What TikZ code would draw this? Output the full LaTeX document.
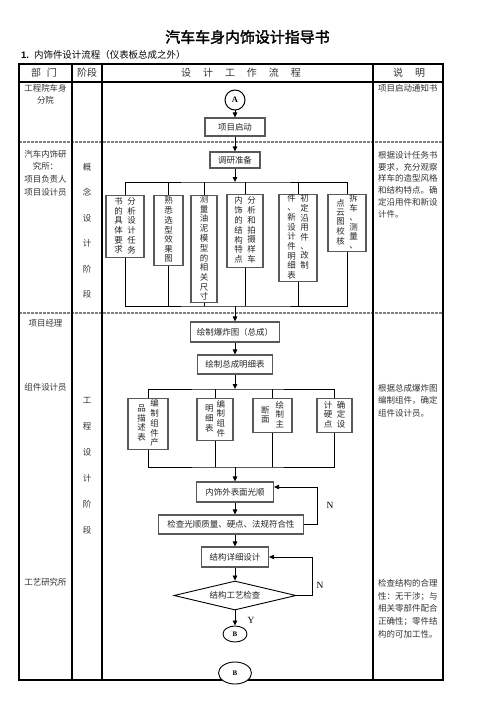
\documentclass[tikz,border=0pt]{standalone}
\usepackage{fontspec}
\setmainfont{Noto Sans CJK SC}
\newfontfamily\cjkbold[FakeBold=2]{Noto Sans CJK SC}
\newfontfamily\latinserif{Liberation Serif}
\newfontfamily\latinsans{Liberation Sans}
\usetikzlibrary{arrows.meta,shapes.geometric,calc}
\newcommand{\myfs}[2]{\fontsize{#1}{#2}\selectfont}
\newcommand{\vstk}[1]{\begin{tabular}[c]{@{}c@{}}#1\end{tabular}}
\newcommand{\vstkt}[1]{\begin{tabular}[t]{@{}c@{}}#1\end{tabular}}
\begin{document}
\begin{tikzpicture}[x=1bp,y=-1bp,
  tbl/.style={line width=1.1bp,draw=black},
  sepline/.style={draw=black!50,line width=1.1bp,dash pattern=on 2.8bp off 1.2bp},
  fbox/.style={draw=black!65,line width=1.1bp,fill=white,inner sep=0pt,font=\myfs{8.5}{9},text=black!85},
  conn/.style={line width=0.8bp,draw=black},
  arr/.style={conn,-{Triangle[length=5bp,width=4.5bp]}},
  txt/.style={inner sep=0pt,text=black!80},
  hdr/.style={inner sep=0pt,font=\myfs{10}{12},text=black!80},
  lbl/.style={inner sep=0pt,font={\latinserif\myfs{9.5}{10}}},
]
\fill[white] (0,0) rectangle (496,702);
\useasboundingbox (0,0) rectangle (496,702);

% title
\node[inner sep=0pt,font={\cjkbold\myfs{15}{15}}] (title) at (247.5,37) {汽车车身内饰设计指导书};
\node[anchor=west,inner sep=0pt,font=\myfs{9.5}{10}] (sub) at (21,55) {{\latinsans\bfseries 1.}\hspace{5bp}内饰件设计流程（仪表板总成之外）};

% table
\draw[sepline] (19,142) -- (443,142);
\draw[sepline] (19,313) -- (443,313);
\draw[tbl] (19,64) rectangle (443,680);
\draw[tbl] (19,82) -- (443,82);
\draw[tbl] (72,64) -- (72,680);
\draw[tbl] (102,64) -- (102,680);
\draw[tbl] (373,64) -- (373,680);

% header
\node[hdr] (h1) at (44,73) {部\hspace{6bp}门};
\node[hdr] (h2) at (87,73) {阶段};
\node[hdr] (h3) at (241,73) {设\hspace{12bp}计\hspace{12bp}工\hspace{12bp}作\hspace{12bp}流\hspace{12bp}程};
\node[hdr] (h4) at (409,73) {说\hspace{12bp}明};

% left column
\node[txt,align=center,font=\myfs{8.5}{12.5}] (d1) at (45.5,94.2) {工程院车身\\分院};
\node[txt,align=center,font=\myfs{8.5}{12.7}] (d2) at (45.5,173) {汽车内饰研\\究所：\\项目负责人\\项目设计员};
\node[txt,font=\myfs{8.5}{12}] (d3) at (45.5,323) {项目经理};
\node[txt,font=\myfs{8.5}{12}] (d4) at (45.5,387) {组件设计员};
\node[txt,font=\myfs{8.5}{12}] (d5) at (45.5,582) {工艺研究所};

% stage column
\node[txt,align=center,font=\myfs{8.5}{25.6}] (s1) at (87,231) {概\\念\\设\\计\\阶\\段};
\node[txt,align=center,font=\myfs{8.5}{26.1}] (s2) at (87,465.3) {工\\程\\设\\计\\阶\\段};

% right column
\node[txt,anchor=west,font=\myfs{8.5}{12}] (e1) at (378,88) {项目启动通知书};
\node[txt,anchor=west,align=left,font=\myfs{8.5}{11.8}] (e2) at (378,184.5) {根据设计任务书\\要求，充分观察\\样车的造型风格\\和结构特点。确\\定沿用件和新设\\计件。};
\node[txt,anchor=west,align=left,font=\myfs{8.5}{12.5}] (e3) at (378,400.7) {根据总成爆炸图\\编制组件，确定\\组件设计员。};
\node[txt,anchor=west,align=left,font=\myfs{8.5}{12.75}] (e4) at (378,608.5) {检查结构的合理\\性：无干涉；与\\相关零部件配合\\正确性；零件结\\构的可加工性。};

% flow: concept stage
\node[circle,draw,line width=1bp,minimum size=20bp,inner sep=0pt,font={\latinserif\bfseries\myfs{8.5}{9}}] (A) at (235,100) {A};
\node[fbox,minimum width=60bp,minimum height=18bp] (qd) at (235,127) {项目启动};
\node[fbox,minimum width=50bp,minimum height=16bp] (dy) at (235,160) {调研准备};
\draw[arr] (A) -- (qd);
\draw[arr] (qd) -- (dy);

\node[fbox,anchor=north,minimum width=38bp,minimum height=62bp] (b1) at (125,195) {\vstk{书\\的\\具\\体\\要\\求}\hspace{4.5bp}\vstk{分\\析\\设\\计\\任\\务}};
\node[fbox,anchor=north,minimum width=29bp,minimum height=70bp] (b2) at (168.5,195) {\vstk{熟\\悉\\选\\型\\效\\果\\图}};
\node[fbox,anchor=north,minimum width=26bp,minimum height=107bp] (b3) at (204,195) {\vstk{测\\量\\油\\泥\\模\\型\\的\\相\\关\\尺\\寸}};
\node[fbox,anchor=north,minimum width=36bp,minimum height=73bp] (b4) at (245,194) {\vstk{内\\饰\\的\\结\\构\\特\\点}\hspace{4.5bp}\vstk{分\\析\\和\\拍\\摄\\样\\车}};
\node[fbox,anchor=north,minimum width=38bp,minimum height=84bp] (b5) at (298,194) {\vstkt{件\\、\\新\\设\\计\\件\\明\\细\\表}\hspace{4.5bp}\vstkt{初\\定\\沿\\用\\件\\、\\改\\制}};
\node[fbox,anchor=north,minimum width=38bp,minimum height=55bp] (b6) at (347,194) {\vstk{点\\云\\图\\校\\核}\hspace{4.5bp}\vstk{拆\\车\\、\\测\\量\\、}};

\coordinate (bus1) at (235,182);
\coordinate (bus1b) at (235,306);
\draw[arr] (dy.south) -- (bus1);
\draw[conn] (b1.north) |- (bus1) -| (b6.north);
\foreach \n in {b2,b3,b4,b5} \draw[conn] (\n.north) -- (\n.north |- bus1);
\draw[conn] (b1.south) |- (bus1b) -| (b6.south);
\foreach \n in {b2,b3,b4,b5} \draw[conn] (\n.south) -- (\n.south |- bus1b);

% flow: engineering stage
\node[fbox,minimum width=89bp,minimum height=20bp] (bz) at (235,332) {绘制爆炸图（总成）};
\node[fbox,minimum width=75bp,minimum height=19bp] (zc) at (235,364.5) {绘制总成明细表};
\draw[arr] (bus1b) -- (bz.north);
\draw[arr] (bz) -- (zc);

\node[fbox,anchor=north,minimum width=40bp,minimum height=51bp] (c1) at (148,398) {\vstk{品\\描\\述\\表}\hspace{4.5bp}\vstk{编\\制\\组\\件\\产}};
\node[fbox,anchor=north,minimum width=36bp,minimum height=42bp] (c2) at (215,398) {\vstk{明\\细\\表}\hspace{3bp}\vstk{编\\制\\组\\件}};
\node[fbox,anchor=north,minimum width=39bp,minimum height=34bp] (c3) at (272.5,398) {\vstk{断\\面}\hspace{6bp}\vstk{绘\\制\\主}};
\node[fbox,anchor=north,minimum width=35bp,minimum height=34bp] (c4) at (334.5,398) {\vstk{计\\硬\\点}\hspace{4.5bp}\vstk{确\\定\\设}};

\coordinate (bus2) at (235,389);
\coordinate (bus2b) at (235,467);
\draw[arr] (zc) -- (bus2);
\draw[conn] (c1.north) |- (bus2) -| (c4.north);
\foreach \n in {c2,c3} \draw[conn] (\n.north) -- (\n.north |- bus2);
\draw[conn] (c1.south) |- (bus2b) -| (c4.south);
\foreach \n in {c2,c3} \draw[conn] (\n.south) -- (\n.south |- bus2b);

\node[fbox,minimum width=77bp,minimum height=20bp] (nb) at (235,492) {内饰外表面光顺};
\node[fbox,minimum width=145bp,minimum height=19bp] (jc) at (231,524.5) {检查光顺质量、硬点、法规符合性};
\node[fbox,minimum width=67bp,minimum height=20bp] (sx) at (235,557) {结构详细设计};
\node[diamond,draw=black,line width=0.9bp,fill=white,aspect=4,inner sep=0pt,minimum width=122bp,minimum height=29bp,font=\myfs{8.5}{9},text=black!85] (gy) at (235,595.5) {结构工艺检查};
\node[ellipse,draw,line width=0.9bp,minimum width=24bp,minimum height=16bp,inner sep=0pt,font={\latinserif\bfseries\myfs{7}{8}}] (B1) at (235,634) {B};

\coordinate (sp) at (235,0);
\draw[arr] (bus2b) -- (nb.north);
\draw[arr] (nb.south) -- (nb.south |- jc.north);
\draw[arr] (jc.south -| sp) -- (sx.north);
\draw[arr] (sx) -- (gy);
\draw[arr] (gy) -- (B1);

\coordinate (r1) at (317,0);
\coordinate (nbin) at ($(nb.east)+(0,-5)$);
\draw[arr] (jc.east) -- (jc.east -| r1) -- (r1 |- nbin) -- (nbin);
\coordinate (r2) at (312,0);
\draw[arr] (gy.east) -- (gy.east -| r2) -- (r2 |- sx.east) -- (sx.east);

\node[lbl] (n1) at (330,505) {N};
\node[lbl] (n2) at (320,585) {N};
\node[lbl] (y1) at (251,620) {Y};

\node[ellipse,draw,line width=0.9bp,fill=white,minimum width=33bp,minimum height=22bp,inner sep=0pt,font={\latinserif\bfseries\myfs{7}{8}}] (B2) at (235,673) {B};
\end{tikzpicture}
\end{document}
